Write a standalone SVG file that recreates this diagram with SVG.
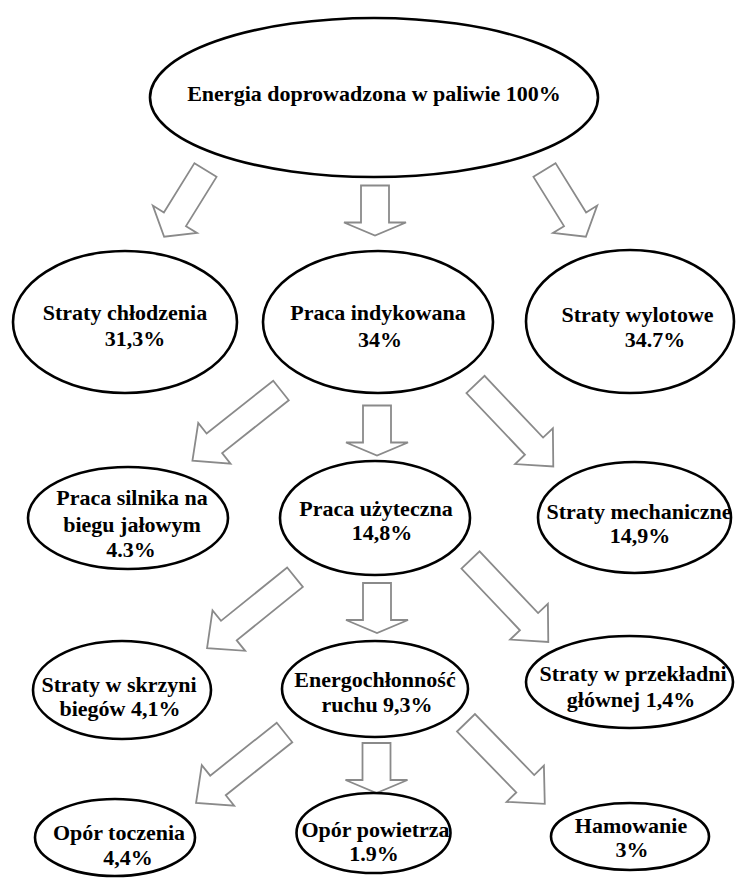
<svg xmlns="http://www.w3.org/2000/svg" xmlns:xlink="http://www.w3.org/1999/xlink" width="736" height="879" viewBox="0 0 736 879">
<style>
.node ellipse{fill:#fff;stroke:#000;stroke-width:2.6}
.node text{font-family:"Liberation Serif","Times New Roman",serif;font-weight:bold;font-size:22px;fill:#000;text-anchor:middle}
.arrow{fill:#fff;stroke:#8a8a8a;stroke-width:1.8;stroke-linejoin:miter}
</style>
<defs>
<polygon id="vArrow" points="-14,0 14,0 14,37 31,37 0,50 -31,37 -14,37"/>
<polygon id="tArrow" points="-13,0 13,0 13,58 26,58 0,78.5 -26,58 -13,58"/>
<polygon id="dArrow" points="-12.5,0 12.5,0 12.5,85 26,85 0,113 -26,85 -12.5,85"/>
</defs>
<rect width="736" height="879" fill="#fff"/>
<g id="connectors">
<use xlink:href="#tArrow" class="arrow" transform="translate(205.5,170) rotate(31.8)"/>
<use xlink:href="#vArrow" class="arrow" transform="translate(375,185.5)"/>
<use xlink:href="#tArrow" class="arrow" transform="translate(544.5,170) rotate(-31.8)"/>
<use xlink:href="#dArrow" class="arrow" transform="translate(281,390.5) rotate(51.6)"/>
<use xlink:href="#vArrow" class="arrow" transform="translate(377,405.5)"/>
<use xlink:href="#dArrow" class="arrow" transform="translate(475.5,384.5) rotate(-43.5)"/>
<use xlink:href="#dArrow" class="arrow" transform="translate(295,577.2) rotate(51.1)"/>
<use xlink:href="#vArrow" class="arrow" transform="translate(377,583)"/>
<use xlink:href="#dArrow" class="arrow" transform="translate(470.5,560) rotate(-43.5)"/>
<use xlink:href="#dArrow" class="arrow" transform="translate(284.5,732.5) rotate(51.5)"/>
<use xlink:href="#vArrow" class="arrow" transform="translate(376.5,743)"/>
<use xlink:href="#dArrow" class="arrow" transform="translate(466,722.8) rotate(-44.2)"/>
</g>
<g id="n-energia" class="node">
<ellipse cx="374" cy="97.5" rx="224" ry="79.5"/>
<text x="374" y="101">Energia doprowadzona w paliwie 100%</text>
</g>
<g id="n-chlodzenie" class="node">
<ellipse cx="125" cy="322" rx="112" ry="71"/>
<text x="125" y="320">Straty chłodzenia</text>
<text x="135" y="346">31,3%</text>
</g>
<g id="n-indykowana" class="node">
<ellipse cx="378" cy="322" rx="115" ry="71"/>
<text x="378" y="320">Praca indykowana</text>
<text x="380" y="347">34%</text>
</g>
<g id="n-wylotowe" class="node">
<ellipse cx="630" cy="321.5" rx="104" ry="71.5"/>
<text x="637.5" y="321.5">Straty wylotowe</text>
<text x="655" y="347">34.7%</text>
</g>
<g id="n-jalowy" class="node">
<ellipse cx="128" cy="518" rx="100" ry="51"/>
<text x="132" y="505">Praca silnika na</text>
<text x="132" y="532">biegu jałowym</text>
<text x="131" y="557">4.3%</text>
</g>
<g id="n-uzyteczna" class="node">
<ellipse cx="375" cy="518" rx="95" ry="57"/>
<text x="376" y="516">Praca użyteczna</text>
<text x="382" y="540">14,8%</text>
</g>
<g id="n-mechaniczne" class="node">
<ellipse cx="634.5" cy="517.5" rx="96.5" ry="55.5"/>
<text x="639" y="519">Straty mechaniczne</text>
<text x="640" y="543">14,9%</text>
</g>
<g id="n-skrzynia" class="node">
<ellipse cx="122" cy="690" rx="89" ry="49"/>
<text x="119" y="692">Straty w skrzyni</text>
<text x="120" y="716">biegów 4,1%</text>
</g>
<g id="n-ruch" class="node">
<ellipse cx="375" cy="689" rx="93" ry="48"/>
<text x="375" y="687">Energochłonność</text>
<text x="377" y="712">ruchu 9,3%</text>
</g>
<g id="n-przekladnia" class="node">
<ellipse cx="629.5" cy="682" rx="103.5" ry="46"/>
<text x="633" y="681">Straty w przekładni</text>
<text x="631" y="707">głównej 1,4%</text>
</g>
<g id="n-toczenie" class="node">
<ellipse cx="115" cy="837.5" rx="80" ry="38.5"/>
<text x="119" y="840">Opór toczenia</text>
<text x="128" y="865">4,4%</text>
</g>
<g id="n-powietrze" class="node">
<ellipse cx="373.5" cy="833" rx="77" ry="40"/>
<text x="375.5" y="836.5">Opór powietrza</text>
<text x="374" y="861">1.9%</text>
</g>
<g id="n-hamowanie" class="node">
<ellipse cx="630" cy="836.5" rx="79" ry="33.5"/>
<text x="631" y="833">Hamowanie</text>
<text x="632" y="857">3%</text>
</g>
</svg>
